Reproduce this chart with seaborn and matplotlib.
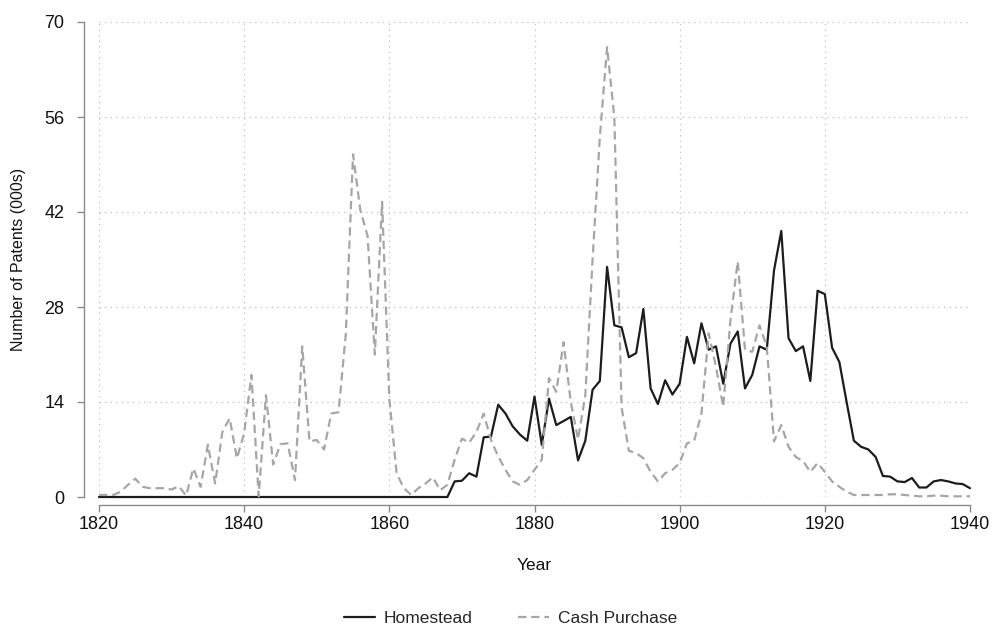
import numpy as np
import pandas as pd
import matplotlib
matplotlib.use("Agg")
import matplotlib.pyplot as plt
import seaborn as sns

# Annual land patents issued, thousands
years = list(range(1820, 1941))

homestead = [0.0] * 48 + [
    0.0, 2.3, 2.4, 3.5, 3.0, 8.8, 8.9, 13.6, 12.3, 10.4,
    9.2, 8.3, 14.8, 7.7, 14.5, 10.6, 11.2, 11.8, 5.4, 8.3,
    15.8, 17.1, 33.9, 25.3, 25.0, 20.6, 21.2, 27.7, 16.0, 13.7,
    17.2, 15.1, 16.7, 23.6, 19.7, 25.6, 21.7, 22.2, 16.7, 22.6,
    24.4, 16.0, 18.0, 22.2, 21.7, 33.4, 39.2, 23.4, 21.5, 22.2,
    17.1, 30.4, 29.9, 22.0, 19.9, 14.0, 8.3, 7.4, 7.0, 5.9,
    3.1, 3.0, 2.3, 2.2, 2.8, 1.4, 1.4, 2.3, 2.5, 2.3,
    2.0, 1.9, 1.3,
]

cash_purchase = [
    0.3, 0.3, 0.3, 0.8, 1.8, 2.7, 1.5, 1.3, 1.3, 1.3,
    1.1, 1.6, 0.2, 4.2, 1.5, 7.7, 2.0, 9.6, 11.6, 5.7,
    9.4, 18.0, 0.1, 15.0, 4.8, 7.8, 7.9, 2.5, 22.2, 8.2,
    8.4, 7.0, 12.3, 12.5, 24.0, 50.5, 42.3, 38.5, 21.0, 43.5,
    14.5, 3.5, 1.3, 0.3, 1.3, 2.0, 2.9, 1.0, 1.8, 5.5,
    8.6, 8.0, 9.6, 12.3, 8.4, 6.0, 4.0, 2.3, 1.8, 2.5,
    4.0, 5.5, 17.5, 15.5, 22.8, 14.0, 8.5, 15.0, 35.0, 53.0,
    66.3, 56.0, 13.2, 6.8, 6.5, 5.7, 3.7, 2.3, 3.5, 4.0,
    5.0, 7.9, 8.3, 12.3, 24.1, 19.2, 13.3, 26.1, 34.7, 21.7,
    21.4, 25.3, 22.2, 8.2, 10.6, 7.4, 5.9, 5.3, 3.7, 5.0,
    3.7, 2.3, 1.5, 0.8, 0.3, 0.3, 0.3, 0.3, 0.3, 0.4,
    0.4, 0.3, 0.2, 0.1, 0.1, 0.2, 0.2, 0.1, 0.1, 0.1,
    0.1,
]

series_names = ["Homestead", "Cash Purchase"]
x_ticks = [1820, 1840, 1860, 1880, 1900, 1920, 1940]
y_ticks = [0, 14, 28, 42, 56, 70]

df = pd.concat([
    pd.DataFrame({"Year": years, "Patents": homestead, "Type": series_names[0]}),
    pd.DataFrame({"Year": years, "Patents": cash_purchase, "Type": series_names[1]}),
])

sns.set_theme(style="white")
plt.rcParams["font.family"] = ["Liberation Sans", "DejaVu Sans"]
plt.rcParams["lines.scale_dashes"] = False

W, H = 995, 632
fig = plt.figure(figsize=(W / 100, H / 100), dpi=100)
ax = fig.add_axes([99 / W, (H - 497) / H, (970 - 99) / W, (497 - 22) / H])

sns.lineplot(
    data=df, x="Year", y="Patents", hue="Type", style="Type",
    palette={"Homestead": "#1c1c1c", "Cash Purchase": "#a6a6a6"},
    dashes={"Homestead": "", "Cash Purchase": (6, 3.5)},
    linewidth=1.6, ax=ax, legend=True, zorder=3,
)
for line in ax.get_lines():
    line.set_clip_on(False)

ax.set_xlim(1820, 1940)
ax.set_ylim(0, 70)
ax.set_xticks(x_ticks)
ax.set_yticks(y_ticks)
ax.tick_params(axis="both", labelsize=13, length=5, width=1, color="#8a8a8a",
               direction="out", labelcolor="#111111")
ax.tick_params(axis="x", pad=3)
ax.tick_params(axis="y", pad=9)
ax.tick_params(axis="both", which="both", bottom=True, left=True)

# dotted reference grid
ax.grid(True, which="major", color="#c4c4c4", linestyle=(0, (1, 3)), linewidth=0.9)
ax.set_axisbelow(True)

# detached axis lines spanning only the labelled range
for side in ("top", "right"):
    ax.spines[side].set_visible(False)
ax.spines["left"].set_position(("outward", 11))
ax.spines["bottom"].set_position(("outward", 6))
ax.spines["left"].set_bounds(0, 70)
ax.spines["bottom"].set_bounds(1820, 1940)
for side in ("left", "bottom"):
    ax.spines[side].set_color("#8a8a8a")
    ax.spines[side].set_linewidth(1)

ax.set_xlabel("Year", fontsize=12.5, labelpad=18, color="#111111")
ax.set_ylabel("Number of Patents (000s)", fontsize=11.5, labelpad=13, color="#111111")

sns.move_legend(
    ax, "center", bbox_to_anchor=(0.513, (H - 618) / H), bbox_transform=fig.transFigure,
    ncol=2, frameon=False, title=None, fontsize=12.5, handlelength=1.8,
    columnspacing=2.6, handletextpad=0.5,
)

fig.savefig("out.png", dpi=100, facecolor="white")
